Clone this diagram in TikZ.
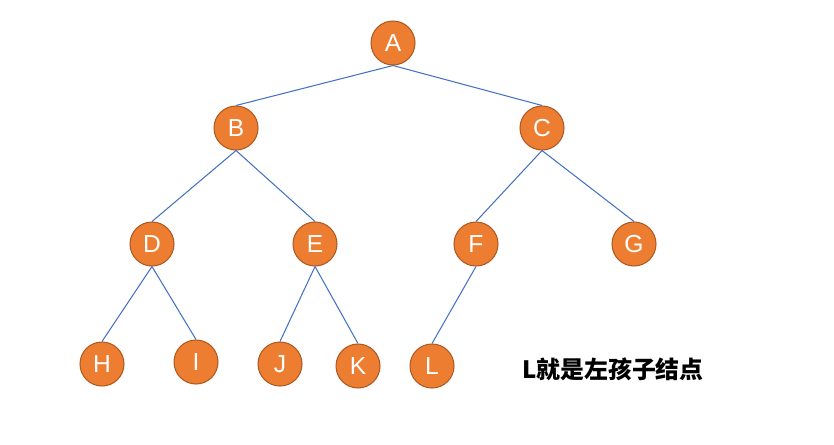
\documentclass[tikz,border=0pt]{standalone}
\usepackage{fontspec}
\setmainfont{Liberation Sans}
\newfontfamily\cjk{Noto Sans CJK SC}
\usetikzlibrary{positioning}
\definecolor{nodeorange}{HTML}{ED7D31}
\definecolor{nodeedge}{HTML}{AE5A21}
\definecolor{edgeblue}{HTML}{4472C4}

\begin{document}
\begin{tikzpicture}[x=0.02cm, y=-0.02cm,
  vertex/.style={circle, fill=nodeorange, draw=nodeedge, line width=0.6pt,
    minimum size=0.88cm, inner sep=0pt, text=white, font=\fontsize{14}{14}\selectfont},
  branch/.style={draw=edgeblue, line width=0.6pt}]
\useasboundingbox (0,0) rectangle (834,444);

\node[vertex] at (393,43) (A) {A} ;
\node[vertex] at (236,128) (B) {B} ;
\node[vertex] at (542,128) (C) {C} ;
\node[vertex] at (152,244) (D) {D} ;
\node[vertex] at (315,244) (E) {E} ;
\node[vertex] at (476,244) (F) {F} ;
\node[vertex] at (634,244) (G) {G} ;
\node[vertex] at (102,364) (H) {H} ;
\node[vertex] at (196,362) (I) {I} ;
\node[vertex] at (280,364) (J) {J} ;
\node[vertex] at (358,366) (K) {K} ;
\node[vertex] at (432,366) (L) {L} ;

\draw[branch] (A.south) -- (B.north) ;
\draw[branch] (A.south) -- (C.north) ;
\draw[branch] (B.south) -- (D.north) ;
\draw[branch] (B.south) -- (E.north) ;
\draw[branch] (C.south) -- (F.north) ;
\draw[branch] (C.south) -- (G.north) ;
\draw[branch] (D.south) -- (H.north) ;
\draw[branch] (D.south) -- (I.north) ;
\draw[branch] (E.south) -- (J.north) ;
\draw[branch] (E.south) -- (K.north) ;
\draw[branch] (F.south) -- (L.north) ;

\node[anchor=west, font=\cjk\bfseries\fontsize{13.6}{14}\selectfont] at (516,369) (note) {L就是左孩子结点} ;
\end{tikzpicture}
\end{document}
